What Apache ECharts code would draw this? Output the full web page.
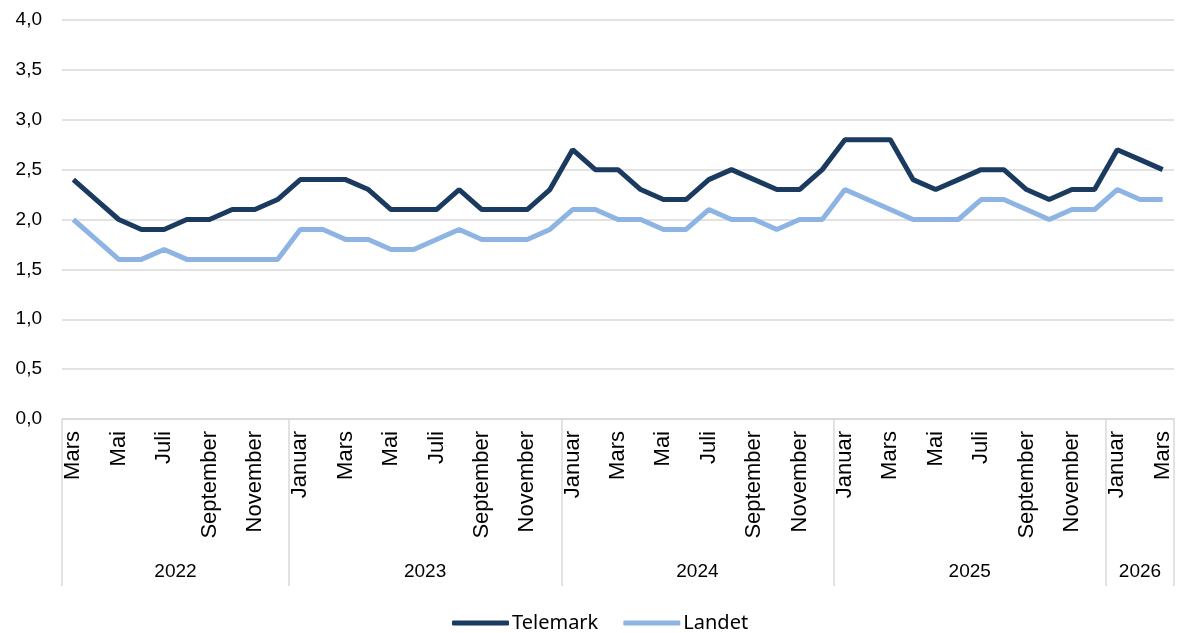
<!DOCTYPE html>
<html>
<head>
<meta charset="utf-8">
<script src="https://cdn.jsdelivr.net/npm/echarts@6/dist/echarts.min.js"></script>
<style>html,body{margin:0;padding:0;background:#fff}#c{width:1184px;height:633px}</style>
</head>
<body>
<div id="c"></div>
<script>
const years = ['2022', '2023', '2024', '2025', '2026'];
const monthsPerYear = [10, 12, 12, 12, 3];
const monthNames = ['Januar','Februar','Mars','April','Mai','Juni','Juli','August','September','Oktober','November','Desember'];
const firstMonthIndex = 2; // Mars 2022
const telemark = [
  2.4,2.2,2.0,1.9,1.9,2.0,2.0,2.1,2.1,2.2,
  2.4,2.4,2.4,2.3,2.1,2.1,2.1,2.3,2.1,2.1,2.1,2.3,
  2.7,2.5,2.5,2.3,2.2,2.2,2.4,2.5,2.4,2.3,2.3,2.5,
  2.8,2.8,2.8,2.4,2.3,2.4,2.5,2.5,2.3,2.2,2.3,2.3,
  2.7,2.6,2.5
];
const landet = [
  2.0,1.8,1.6,1.6,1.7,1.6,1.6,1.6,1.6,1.6,
  1.9,1.9,1.8,1.8,1.7,1.7,1.8,1.9,1.8,1.8,1.8,1.9,
  2.1,2.1,2.0,2.0,1.9,1.9,2.1,2.0,2.0,1.9,2.0,2.0,
  2.3,2.2,2.1,2.0,2.0,2.0,2.2,2.2,2.1,2.0,2.1,2.1,
  2.3,2.2,2.2
];

// month categories
const months = [];
{
  let m = firstMonthIndex;
  monthsPerYear.forEach(n => { for (let i = 0; i < n; i++) { months.push(monthNames[m % 12]); m++; } });
}
// year axis in half-month steps (boundaries), with labels at year centres
const total = months.length;
const halfSlots = [];
for (let i = 0; i <= total * 2; i++) halfSlots.push('');
const boundaryIdx = [0];
const labelIdx = {};
{
  let acc = 0;
  monthsPerYear.forEach((n, k) => {
    const centre = acc * 2 + n;
    halfSlots[centre] = years[k];
    labelIdx[centre] = true;
    acc += n;
    boundaryIdx.push(acc * 2);
  });
}
const boundarySet = new Set(boundaryIdx);

const chart = echarts.init(document.getElementById('c'));
const txt = '#000000';
const grid = '#d9d9d9';
chart.setOption({
  animation: false,
  grid: { left: 62, right: 10, top: 20, bottom: 214, containLabel: false },
  legend: {
    bottom: -5, left: 447,
    data: ['Telemark', 'Landet'],
    icon: 'roundRect',
    itemWidth: 57, itemHeight: 5, itemGap: 25,
    textStyle: { fontFamily: 'Noto Sans', fontSize: 20, color: txt, padding: [0,0,0,-2] }
  },
  xAxis: [
    {
      type: 'category', data: months, boundaryGap: true,
      axisLine: { show: true, lineStyle: { color: grid, width: 1.5 } },
      axisTick: { show: false },
      axisLabel: { interval: 1, rotate: 90, margin: 12, fontFamily: 'Liberation Sans', fontSize: 22, color: txt }
    },
    {
      type: 'category', data: halfSlots, boundaryGap: false, position: 'bottom', offset: 167,
      axisLine: { show: false },
      axisTick: { show: true, inside: true, length: 167, interval: (i) => boundarySet.has(i), lineStyle: { color: grid, width: 1.5 } },
      axisLabel: { inside: true, margin: 5, interval: (i) => !!labelIdx[i], fontFamily: 'Liberation Sans', fontSize: 19, color: txt }
    }
  ],
  yAxis: {
    type: 'value', min: 0, max: 4, interval: 0.5,
    axisLine: { show: false }, axisTick: { show: false },
    splitLine: { lineStyle: { color: grid, width: 1.5 } },
    axisLabel: { margin: 20, fontFamily: 'Liberation Sans', fontSize: 19, color: txt, formatter: v => v.toFixed(1).replace('.', ',') }
  },
  series: [
    { name: 'Telemark', type: 'line', data: telemark, xAxisIndex: 0, showSymbol: false, symbol: 'none',
      lineStyle: { color: '#1b3a60', width: 5 }, itemStyle: { color: '#1b3a60' } },
    { name: 'Landet', type: 'line', data: landet, xAxisIndex: 0, showSymbol: false, symbol: 'none',
      lineStyle: { color: '#8db4e2', width: 5 }, itemStyle: { color: '#8db4e2' } }
  ]
});
</script>
</body>
</html>
